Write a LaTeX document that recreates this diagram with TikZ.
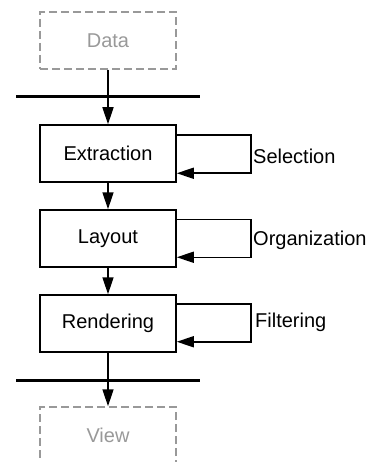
\documentclass[tikz,border=0pt]{standalone}
\usepackage{fontspec}
\setmainfont{Liberation Sans}
\usetikzlibrary{arrows.meta}

\begin{document}
\begin{tikzpicture}[x=1pt,y=-1pt]
\tikzset{stage/.style = {shape=rectangle,draw,line width=1.5pt,minimum width=136pt,minimum height=57pt,inner sep=0pt,font=\fontsize{20}{24}\selectfont}}
\tikzset{ghost/.style = {stage,draw=black!40,text=black!40,dash pattern=on 8pt off 4pt}}
\tikzset{edge/.style = {line width=1.5pt,-{Triangle[length=17pt,width=11pt]}}}
\tikzset{bar/.style = {line width=3pt}}
\tikzset{note/.style = {anchor=base west,inner sep=0pt,font=\fontsize{20}{24}\selectfont}}
\clip (0,0) rectangle (371,462);
\useasboundingbox (0,0) rectangle (371,462);
% stages
\node[ghost] (data) at (108,40.5) {Data};
\node[stage] (extr) at (108,153.5) {Extraction};
\node[stage] (lay)  at (108,238.5) {Layout};
\node[stage] (rend) at (108,323.5) {Rendering};
\node[ghost] (view) at (108,435.5) {View};
% bars
\draw[bar] (16,97) -- (200,97);
\draw[bar] (16,380) -- (200,380);
% edges
\draw[edge] (data) to (extr);
\draw[edge] (extr) to (lay);
\draw[edge] (lay)  to (rend);
\draw[edge] (rend) to (view);
% loops
\draw[edge] ([yshift=-11pt]extr.north east) -- ++(74,0) |- ([yshift=9.5pt]extr.south east);
\draw[edge] ([yshift=-10pt]lay.north east)  -- ++(74,0) |- ([yshift=10.5pt]lay.south east);
\draw[edge] ([yshift=-9.5pt]rend.north east) -- ++(74,0) |- ([yshift=11pt]rend.south east);
% labels
\node[note] (sel) at (253,164) {Selection};
\node[note] (org) at (253,245) {Organization};
\node[note] (fil) at (255,327) {Filtering};
\end{tikzpicture}
\end{document}
